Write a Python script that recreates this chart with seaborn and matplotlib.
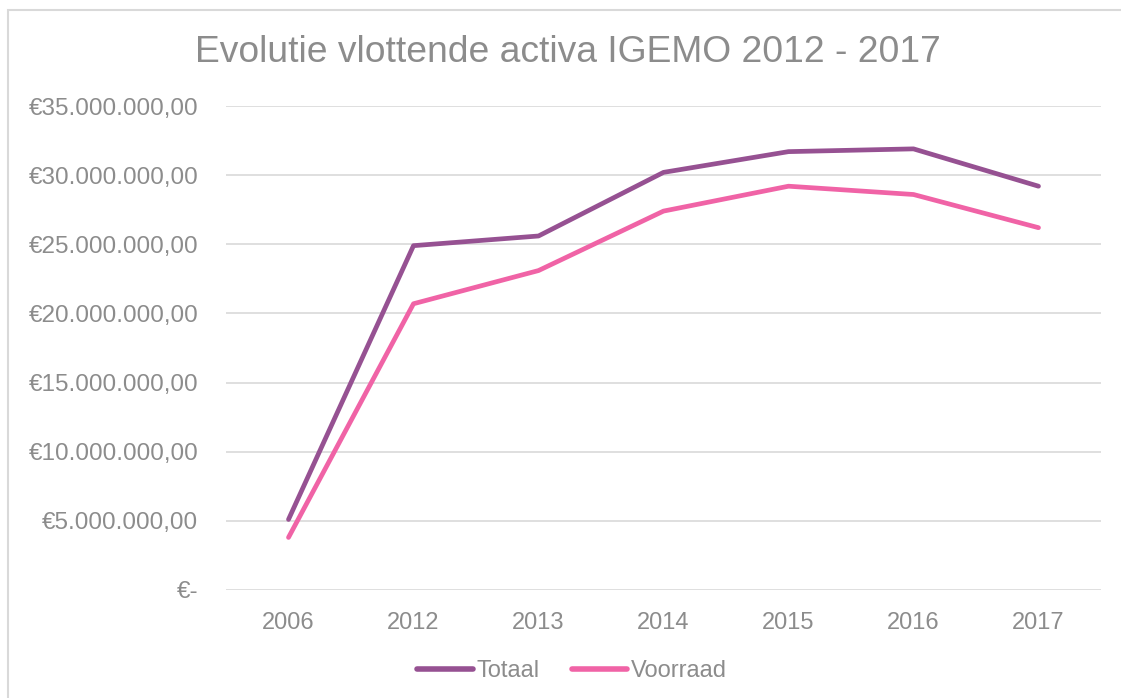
import numpy as np
import pandas as pd
import matplotlib.pyplot as plt
import seaborn as sns
from matplotlib.patches import Rectangle

# Data
years = ['2006', '2012', '2013', '2014', '2015', '2016', '2017']
totaal = [5.1e6, 24.9e6, 25.6e6, 30.2e6, 31.7e6, 31.9e6, 29.2e6]
voorraad = [3.8e6, 20.7e6, 23.1e6, 27.4e6, 29.2e6, 28.6e6, 26.2e6]
yticks = [0, 5e6, 10e6, 15e6, 20e6, 25e6, 30e6, 35e6]
ytick_labels = ['€-', '€5.000.000,00', '€10.000.000,00', '€15.000.000,00',
                '€20.000.000,00', '€25.000.000,00', '€30.000.000,00', '€35.000.000,00']

df = pd.DataFrame({'Jaar': years * 2,
                   'Waarde': totaal + voorraad,
                   'Reeks': ['Totaal'] * len(years) + ['Voorraad'] * len(years)})

sns.set_style('white')
plt.rcParams['font.family'] = ['Liberation Sans', 'DejaVu Sans']
grey = '#8c8c8c'

fig = plt.figure(figsize=(11.21, 6.98), dpi=100)
ax = fig.add_axes([226 / 1121, 1 - 590 / 698, 875 / 1121, 484 / 698])

sns.lineplot(data=df, x='Jaar', y='Waarde', hue='Reeks', sort=False,
             palette={'Totaal': '#965192', 'Voorraad': '#f063a6'},
             linewidth=3.4, ax=ax, legend=True)
for ln in ax.lines:
    ln.set_solid_capstyle('round')
    ln.set_solid_joinstyle('round')
    ln.set_clip_on(False)

ax.set_xlim(-0.5, len(years) - 0.5)
ax.set_ylim(0, 35e6)
ax.set_yticks(yticks)
ax.set_yticklabels(ytick_labels)
ax.yaxis.grid(True, color='#d9d9d9', linewidth=1.2)
ax.set_axisbelow(True)
for s in ax.spines.values():
    s.set_visible(False)
ax.tick_params(axis='y', length=0, pad=20, labelsize=17.5, labelcolor=grey)
ax.tick_params(axis='x', length=0, pad=16, labelsize=17, labelcolor=grey)
ax.set_xlabel('')
ax.set_ylabel('')

# legend centred on the figure, at y = 671 px
leg = ax.legend(loc='center', bbox_to_anchor=(572 / 1121, 1 - 671 / 698),
                bbox_transform=fig.transFigure, ncol=2,
                frameon=False, fontsize=17, handlelength=2.35,
                handletextpad=0.15, columnspacing=1.35)
for t in leg.get_texts():
    t.set_color(grey)
for h in leg.get_lines():
    h.set_linewidth(4)
    h.set_solid_capstyle('round')

fig.text(568 / 1121, 1 - 52 / 698, 'Evolutie vlottende activa IGEMO 2012 - 2017',
         ha='center', va='center', fontsize=26.8, color=grey)

fig.patches.append(Rectangle((8 / 1121, -0.05), 1.2, 1 - 10 / 698 + 0.05,
                             transform=fig.transFigure, fill=False,
                             edgecolor='#d9d9d9', linewidth=1.5))

fig.savefig('out.png', dpi=100)
